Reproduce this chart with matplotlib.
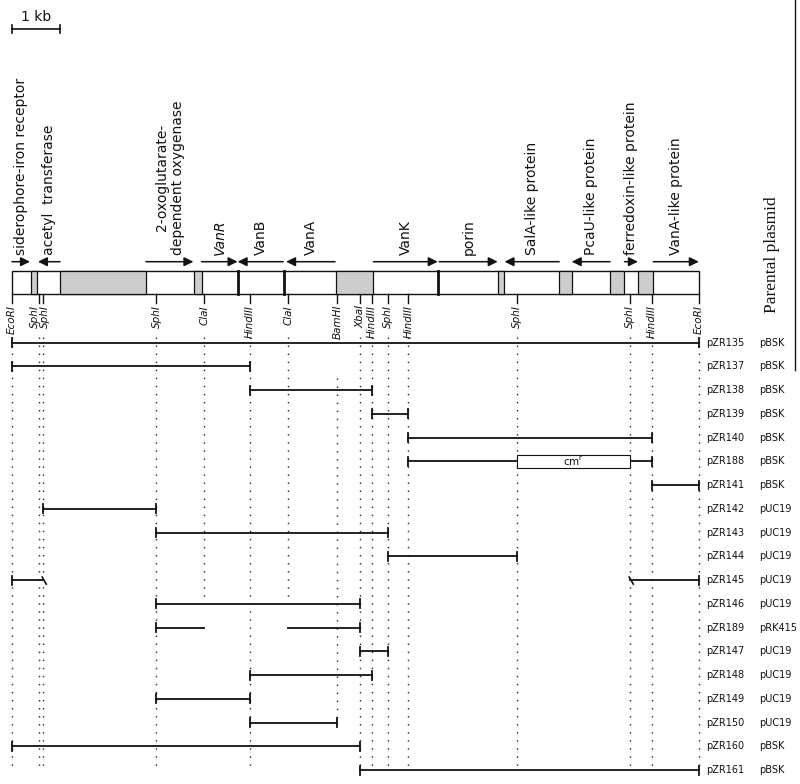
import matplotlib
matplotlib.use("Agg")
import matplotlib.pyplot as plt
from matplotlib.patches import Rectangle

# ---------------- data (positions in kb from the left EcoRI site) ----------------
site_names = ["EcoRI", "SphI", "SphI", "SphI", "ClaI", "HindIII", "ClaI", "BamHI",
              "XbaI", "HindIII", "SphI", "HindIII", "SphI", "SphI", "HindIII", "EcoRI"]
site_kb = [0.00, 0.56, 0.65, 3.01, 4.01, 4.96, 5.76, 6.78,
           7.25, 7.50, 7.83, 8.26, 10.52, 12.88, 13.33, 14.31]
# how far down (clone row index) each site's dotted guide reaches
site_guide_first = [0, 0, 0, 0, 0, 0, 0, 2, 0, 0, 0, 0, 0, 0, 0, 0]
site_guide_last = [18, 18, 18, 18, 11, 18, 11, 16, 18, 18, 18, 18, 18, 18, 18, 18]

gene_names = ["siderophore-iron receptor", "acetyl  transferase",
              "2-oxoglutarate-\ndependent oxygenase", "VanR", "VanB", "VanA",
              "VanK", "porin", "SalA-like protein", "PcaU-like protein",
              "ferredoxin-like protein", "VanA-like protein"]
gene_start = [0.00, 1.00, 2.79, 3.95, 5.65, 6.73, 7.53, 8.90, 11.40, 12.46, 12.76, 13.36]
gene_end = [0.375, 0.54, 3.78, 4.70, 4.70, 5.71, 8.87, 10.12, 10.26, 11.66, 13.04, 14.31]
gene_italic = [False, False, False, True, False, False, False, False, False, False, False, False]

grey_start = [0.39, 1.00, 3.79, 6.74, 10.12, 11.40, 12.46, 13.04]
grey_end = [0.53, 2.79, 3.95, 7.53, 10.26, 11.66, 12.76, 13.36]
gene_borders = [4.70, 5.66, 8.88]
map_length = 14.31

clones = ["pZR135", "pZR137", "pZR138", "pZR139", "pZR140", "pZR188", "pZR141",
          "pZR142", "pZR143", "pZR144", "pZR145", "pZR146", "pZR189", "pZR147",
          "pZR148", "pZR149", "pZR150", "pZR160", "pZR161"]
parental = ["pBSK", "pBSK", "pBSK", "pBSK", "pBSK", "pBSK", "pBSK",
            "pUC19", "pUC19", "pUC19", "pUC19", "pUC19", "pRK415", "pUC19",
            "pUC19", "pUC19", "pUC19", "pBSK", "pBSK"]
# insert fragments per clone: (start kb, end kb, left end style, right end style)
clone_fragments = [
    [(0.00, 14.31, "bar", "bar")],
    [(0.00, 4.96, "bar", "bar")],
    [(4.96, 7.50, "bar", "bar")],
    [(7.50, 8.26, "bar", "bar")],
    [(8.26, 13.33, "bar", "bar")],
    [(8.26, 13.33, "bar", "bar")],
    [(13.33, 14.31, "bar", "bar")],
    [(0.65, 3.01, "bar", "bar")],
    [(3.01, 7.83, "bar", "bar")],
    [(7.83, 10.52, "bar", "bar")],
    [(0.00, 0.65, "bar", "hook"), (12.88, 14.31, "hook", "bar")],
    [(3.01, 7.25, "bar", "bar")],
    [(3.01, 4.01, "bar", "none"), (5.76, 7.25, "none", "bar")],
    [(7.25, 7.83, "bar", "bar")],
    [(4.96, 7.50, "bar", "bar")],
    [(3.01, 4.96, "bar", "bar")],
    [(4.96, 6.78, "bar", "bar")],
    [(0.00, 7.25, "bar", "bar")],
    [(7.25, 14.31, "bar", "bar")],
]
cassette_clone = "pZR188"
cassette_kb = (10.52, 12.88)
cassette_label = r"cm$^{\mathrm{r}}$"
scale_kb = 1.0

# ---------------- layout ----------------
PX = 1.0 / 48.0          # kb per pixel
X0 = 12                  # pixel of kb 0


def kb_x(px):
    return (px - X0) * PX


fig = plt.figure(figsize=(8.0, 7.84), dpi=100)
ax = fig.add_axes([0, 0, 1, 1])
ax.set_xlim(kb_x(0), kb_x(800))
ax.set_ylim(784, 0)
ax.axis("off")

INK = "#111111"
row_y0, row_dy = 342.7, 23.74


def row_y(i):
    return row_y0 + i * row_dy


# scale bar
ax.plot([0, scale_kb], [29, 29], color=INK, lw=1.2)
for xx in (0, scale_kb):
    ax.plot([xx, xx], [25, 33], color=INK, lw=1.2)
ax.text(scale_kb / 2, 23.5, "1 kb", ha="center", va="bottom", fontsize=10, color=INK)

# gene map box
box_top, box_bot = 271, 294
ax.add_patch(Rectangle((0, box_top), map_length, box_bot - box_top,
                       facecolor="white", edgecolor=INK, lw=1.0, zorder=2))
for s, e in zip(grey_start, grey_end):
    ax.add_patch(Rectangle((s, box_top), e - s, box_bot - box_top,
                           facecolor="#cdcdcd", edgecolor=INK, lw=0.9, zorder=3))
for b in gene_borders:
    ax.plot([b, b], [box_top, box_bot], color=INK, lw=2.0, zorder=4)

# gene arrows and labels
arrow_y = 261.7
for name, s, e, it in zip(gene_names, gene_start, gene_end, gene_italic):
    ax.annotate("", xy=(e, arrow_y), xytext=(s, arrow_y),
                arrowprops=dict(arrowstyle="-|>,head_length=0.55,head_width=0.27",
                                color=INK, lw=1.1, shrinkA=0, shrinkB=0,
                                mutation_scale=10))
    ax.text((s + e) / 2, 255, name, rotation=90, ha="center", va="bottom",
            fontsize=10, color=INK, multialignment="center",
            style="italic" if it else "normal", linespacing=1.15)

ax.text(kb_x(771.7), 255, "Parental plasmid", rotation=90, ha="center",
        va="center", fontsize=12.5, family="Liberation Serif", color=INK)

# restriction sites
label_shift = {1: -4 * PX, 2: 2 * PX}
for i, (nm, x) in enumerate(zip(site_names, site_kb)):
    ax.plot([x, x], [box_bot, 303], color=INK, lw=1.0)
    ax.text(x + label_shift.get(i, 0), 305, nm, rotation=90, ha="center", va="top",
            fontsize=7.5, style="italic", color=INK)
    y_a = 337 if site_guide_first[i] == 0 else row_y(site_guide_first[i]) - 12
    y_b = row_y(site_guide_last[i]) - 2
    ax.plot([x, x], [y_a, y_b], color="#222222", lw=1.0,
            linestyle=(0, (1, 4.8)), zorder=1)

# clones
tick_h = 4.5
for i, (cl, par, frags) in enumerate(zip(clones, parental, clone_fragments)):
    y = row_y(i)
    for s, e, ls, rs in frags:
        ax.plot([s, e], [y, y], color=INK, lw=1.3, zorder=5)
        for xx, style, side in ((s, ls, -1), (e, rs, 1)):
            if style == "bar":
                ax.plot([xx, xx], [y - tick_h, y + tick_h], color=INK, lw=1.3, zorder=5)
            elif style == "hook":
                ax.plot([xx - 1 * PX, xx + 3 * PX], [y - 3, y + 4], color=INK,
                        lw=1.2, zorder=5)
    if cl == cassette_clone:
        c0, c1 = cassette_kb
        ax.add_patch(Rectangle((c0, y - 6.3), c1 - c0, 12.6, facecolor="white",
                               edgecolor=INK, lw=0.8, zorder=6))
        ax.text((c0 + c1) / 2, y + 0.5, cassette_label, ha="center", va="center",
                fontsize=7.5, color=INK, zorder=7)
    ax.text(kb_x(706.5), y, cl, ha="left", va="center", fontsize=7, color=INK)
    ax.text(kb_x(759), y, par, ha="left", va="center", fontsize=7, color=INK)

# right border line of the scanned panel
ax.plot([kb_x(795), kb_x(795)], [0, 370], color=INK, lw=1.0)

fig.savefig("out.png", dpi=100)
